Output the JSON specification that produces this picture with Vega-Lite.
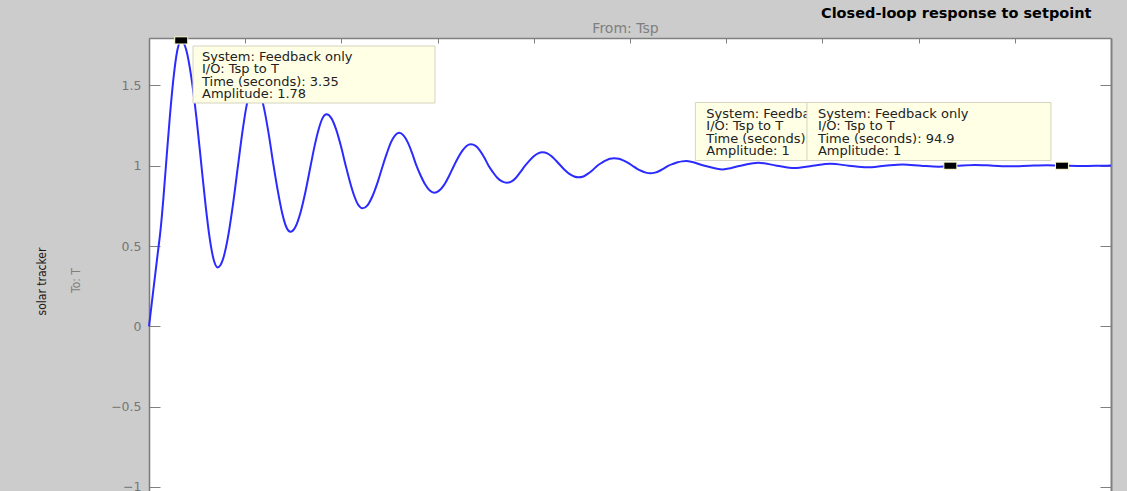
{
  "$schema": "https://vega.github.io/schema/vega-lite/v6.json",
  "width": 962,
  "height": 453,
  "autosize": {"type": "none"},
  "padding": {"left": 149, "top": 38, "right": 16, "bottom": 0},
  "background": "#cccccc",
  "view": {"fill": "#ffffff", "stroke": null},
  "config": {"font": "DejaVu Sans", "axis": {"grid": false}},
  "title": {
    "text": "Closed-loop response to setpoint",
    "anchor": "start",
    "frame": "group",
    "dx": 672,
    "dy": 0,
    "offset": 0,
    "font": "DejaVu Sans",
    "fontSize": 14.5,
    "fontWeight": "bold",
    "color": "#000000"
  },
  "datasets": {
    "response": [
      {"t": 0, "v": 0}, {"t": 0.3, "v": 0.15}, {"t": 0.6, "v": 0.3}, {"t": 0.9, "v": 0.45},
      {"t": 1.2, "v": 0.6}, {"t": 1.5, "v": 0.8}, {"t": 1.76, "v": 1.0}, {"t": 2.16, "v": 1.3},
      {"t": 2.555, "v": 1.55}, {"t": 2.95, "v": 1.72}, {"t": 3.35, "v": 1.78}, {"t": 3.875, "v": 1.72},
      {"t": 4.4, "v": 1.55}, {"t": 4.93, "v": 1.3}, {"t": 5.45, "v": 1.0}, {"t": 5.875, "v": 0.758},
      {"t": 6.3, "v": 0.552}, {"t": 6.725, "v": 0.415}, {"t": 7.15, "v": 0.367}, {"t": 7.675, "v": 0.415},
      {"t": 8.2, "v": 0.552}, {"t": 8.725, "v": 0.758}, {"t": 9.25, "v": 1.0}, {"t": 9.675, "v": 1.195},
      {"t": 10.1, "v": 1.36}, {"t": 10.525, "v": 1.47}, {"t": 10.95, "v": 1.51}, {"t": 11.45, "v": 1.47},
      {"t": 11.95, "v": 1.36}, {"t": 12.45, "v": 1.195}, {"t": 12.95, "v": 1.0}, {"t": 13.39, "v": 0.843},
      {"t": 13.83, "v": 0.709}, {"t": 14.26, "v": 0.62}, {"t": 14.7, "v": 0.589}, {"t": 15.23, "v": 0.62},
      {"t": 15.75, "v": 0.709}, {"t": 16.28, "v": 0.843}, {"t": 16.8, "v": 1.0}, {"t": 17.21, "v": 1.122},
      {"t": 17.63, "v": 1.226}, {"t": 18.04, "v": 1.296}, {"t": 18.45, "v": 1.32}, {"t": 18.95, "v": 1.296},
      {"t": 19.45, "v": 1.226}, {"t": 19.95, "v": 1.122}, {"t": 20.45, "v": 1.0}, {"t": 20.89, "v": 0.899},
      {"t": 21.33, "v": 0.813}, {"t": 21.76, "v": 0.755}, {"t": 22.2, "v": 0.735}, {"t": 22.73, "v": 0.755},
      {"t": 23.25, "v": 0.813}, {"t": 23.78, "v": 0.899}, {"t": 24.3, "v": 1.0}, {"t": 24.73, "v": 1.078},
      {"t": 25.15, "v": 1.145}, {"t": 25.58, "v": 1.189}, {"t": 26.0, "v": 1.205}, {"t": 26.45, "v": 1.189},
      {"t": 26.9, "v": 1.145}, {"t": 27.35, "v": 1.078}, {"t": 27.8, "v": 1.0}, {"t": 28.26, "v": 0.936},
      {"t": 28.73, "v": 0.881}, {"t": 29.19, "v": 0.845}, {"t": 29.65, "v": 0.832}, {"t": 30.16, "v": 0.845},
      {"t": 30.68, "v": 0.881}, {"t": 31.19, "v": 0.936}, {"t": 31.7, "v": 1.0}, {"t": 32.14, "v": 1.051},
      {"t": 32.58, "v": 1.094}, {"t": 33.01, "v": 1.123}, {"t": 33.45, "v": 1.133}, {"t": 33.95, "v": 1.123},
      {"t": 34.4, "v": 1.094}, {"t": 34.85, "v": 1.051}, {"t": 35.3, "v": 1.0}, {"t": 35.75, "v": 0.96},
      {"t": 36.2, "v": 0.925}, {"t": 36.7, "v": 0.902}, {"t": 37.2, "v": 0.894}, {"t": 37.7, "v": 0.902},
      {"t": 38.15, "v": 0.925}, {"t": 38.6, "v": 0.96}, {"t": 39.1, "v": 1.0}, {"t": 39.55, "v": 1.032},
      {"t": 40.0, "v": 1.059}, {"t": 40.45, "v": 1.077}, {"t": 40.9, "v": 1.083}, {"t": 41.4, "v": 1.077},
      {"t": 41.85, "v": 1.059}, {"t": 42.3, "v": 1.032}, {"t": 42.8, "v": 1.0}, {"t": 43.25, "v": 0.972},
      {"t": 43.7, "v": 0.949}, {"t": 44.2, "v": 0.933}, {"t": 44.65, "v": 0.928}, {"t": 45.15, "v": 0.933},
      {"t": 45.6, "v": 0.949}, {"t": 46.1, "v": 0.972}, {"t": 46.6, "v": 1.0}, {"t": 47.05, "v": 1.018},
      {"t": 47.5, "v": 1.033}, {"t": 47.9, "v": 1.043}, {"t": 48.35, "v": 1.046}, {"t": 48.85, "v": 1.043},
      {"t": 49.3, "v": 1.033}, {"t": 49.8, "v": 1.018}, {"t": 50.25, "v": 1.0}, {"t": 50.7, "v": 0.982},
      {"t": 51.2, "v": 0.967}, {"t": 51.65, "v": 0.957}, {"t": 52.1, "v": 0.953}, {"t": 52.6, "v": 0.957},
      {"t": 53.05, "v": 0.967}, {"t": 53.5, "v": 0.982}, {"t": 54.0, "v": 1.0}, {"t": 54.45, "v": 1.011},
      {"t": 54.95, "v": 1.021}, {"t": 55.4, "v": 1.027}, {"t": 55.85, "v": 1.029}, {"t": 57.75, "v": 1.0},
      {"t": 59.6, "v": 0.977}, {"t": 61.5, "v": 1.0}, {"t": 63.35, "v": 1.019}, {"t": 65.25, "v": 1.0},
      {"t": 67.1, "v": 0.985}, {"t": 69.0, "v": 1.0}, {"t": 70.85, "v": 1.012}, {"t": 72.75, "v": 1.0},
      {"t": 74.6, "v": 0.99}, {"t": 76.5, "v": 1.0}, {"t": 78.35, "v": 1.008}, {"t": 80.25, "v": 1.0},
      {"t": 82.1, "v": 0.994}, {"t": 84.0, "v": 1.0}, {"t": 85.85, "v": 1.005}, {"t": 87.75, "v": 1.0},
      {"t": 89.6, "v": 0.996}, {"t": 91.5, "v": 1.0}, {"t": 93.35, "v": 1.003}, {"t": 95.25, "v": 1.0},
      {"t": 97.1, "v": 0.998}, {"t": 99.0, "v": 1.0}, {"t": 100, "v": 1.001}
    ],
    "tips": [
      {"system": "Feedback only", "io": "Tsp to T", "time": 3.35, "amplitude": 1.78},
      {"system": "Feedback only", "io": "Tsp to T", "time": 83.3, "amplitude": 1},
      {"system": "Feedback only", "io": "Tsp to T", "time": 94.9, "amplitude": 1}
    ]
  },
  "resolve": {"axis": {"x": "independent", "y": "independent"}},
  "layer": [
    {
      "mark": {"type": "rule", "color": "#303030", "strokeWidth": 1, "strokeDash": [5, 4]},
      "encoding": {
        "y": {
          "datum": 1,
          "type": "quantitative",
          "scale": {"domain": [-1.025, 1.795], "nice": false, "zero": false},
          "axis": {
            "orient": "left",
            "title": "solar tracker",
            "labels": false,
            "ticks": false,
            "domain": false,
            "titleX": -108,
            "titleY": 243,
            "titleAngle": 270,
            "titleBaseline": "middle",
            "titleAlign": "center",
            "titleFont": "Liberation Sans Narrow, DejaVu Sans Condensed, sans-serif",
            "titleFontSize": 12,
            "titleFontWeight": "normal",
            "titleColor": "#1e1610"
          }
        }
      }
    },
    {
      "data": {"name": "response"},
      "mark": {"type": "line", "color": "#2b2bff", "strokeWidth": 2, "interpolate": "monotone"},
      "encoding": {
        "x": {
          "field": "t",
          "type": "quantitative",
          "scale": {"domain": [0, 100], "nice": false, "zero": false},
          "axis": {
            "orient": "top",
            "title": "From: Tsp",
            "values": [0, 10, 20, 30, 40, 50, 60, 70, 80, 90, 100],
            "labels": false,
            "tickSize": -5,
            "tickColor": "#7f7f7f",
            "domain": true,
            "domainColor": "#808080",
            "domainWidth": 1.5,
            "titleX": 476,
            "titleY": -6,
            "titleBaseline": "alphabetic",
            "titleFont": "DejaVu Sans",
            "titleFontSize": 14,
            "titleFontWeight": "normal",
            "titleColor": "#7f7f7f"
          }
        },
        "y": {
          "field": "v",
          "type": "quantitative",
          "scale": {"domain": [-1.025, 1.795], "nice": false, "zero": false},
          "axis": {
            "orient": "left",
            "title": "To: T",
            "values": [-1, -0.5, 0, 0.5, 1, 1.5],
            "format": "~g",
            "tickSize": -11,
            "tickColor": "#7f7f7f",
            "domain": true,
            "domainColor": "#7a7a7a",
            "domainWidth": 1.5,
            "labelPadding": 19,
            "labelOverlap": false,
            "labelFont": "DejaVu Sans",
            "labelFontSize": 12.5,
            "labelColor": "#767676",
            "titleX": -74,
            "titleY": 242,
            "titleAngle": 270,
            "titleBaseline": "middle",
            "titleAlign": "center",
            "titleFont": "Liberation Sans Narrow, DejaVu Sans Condensed, sans-serif",
            "titleFontSize": 12,
            "titleFontWeight": "normal",
            "titleColor": "#7f7f7f"
          }
        }
      }
    },
    {
      "data": {"name": "tips"},
      "mark": {
        "type": "point",
        "shape": "M-1,-0.55L1,-0.55L1,0.55L-1,0.55Z",
        "size": 169,
        "filled": true,
        "fill": "#000000",
        "stroke": "#ffffd0",
        "strokeWidth": 1,
        "opacity": 1
      },
      "encoding": {
        "x": {"field": "time", "type": "quantitative", "scale": {"domain": [0, 100], "nice": false, "zero": false}, "axis": null},
        "y": {
          "field": "amplitude",
          "type": "quantitative",
          "scale": {"domain": [-1.025, 1.795], "nice": false, "zero": false},
          "axis": {
            "orient": "right",
            "title": null,
            "labels": false,
            "values": [-1, -0.5, 0, 0.5, 1, 1.5],
            "tickSize": -11,
            "tickColor": "#7f7f7f",
            "domain": true,
            "domainColor": "#808080",
            "domainWidth": 2
          }
        }
      }
    },
    {
      "data": {"name": "tips"},
      "transform": [{"filter": "datum.time < 50"}],
      "mark": {"type": "rect", "fill": "#ffffe6", "stroke": "#d4d4c0", "strokeWidth": 1, "xOffset": 11.8, "x2Offset": 253.8, "yOffset": 5.6, "y2Offset": 62.6},
      "encoding": {
        "x": {"field": "time", "type": "quantitative", "axis": null},
        "x2": {"field": "time"},
        "y": {"field": "amplitude", "type": "quantitative", "axis": null},
        "y2": {"field": "amplitude"}
      }
    },
    {
      "data": {"name": "tips"},
      "transform": [
        {"filter": "datum.time < 50"},
        {"calculate": "'System: ' + datum.system + '\\n' + 'I/O: ' + datum.io + '\\n' + 'Time (seconds): ' + datum.time + '\\n' + 'Amplitude: ' + datum.amplitude", "as": "label"}
      ],
      "mark": {"type": "text", "align": "left", "baseline": "alphabetic", "lineBreak": "\n", "lineHeight": 12.4, "dx": 20.8, "dy": 20.3, "font": "DejaVu Sans", "fontSize": 13, "color": "#222222"},
      "encoding": {
        "x": {"field": "time", "type": "quantitative", "axis": null},
        "y": {"field": "amplitude", "type": "quantitative", "axis": null},
        "text": {"field": "label", "type": "nominal"}
      }
    },
    {
      "data": {"name": "tips"},
      "transform": [{"filter": "datum.time > 80 && datum.time < 90"}],
      "mark": {"type": "rect", "fill": "#ffffe6", "stroke": "#d4d4c0", "strokeWidth": 1, "xOffset": -255, "x2Offset": -11, "yOffset": -63.2, "y2Offset": -5.2},
      "encoding": {
        "x": {"field": "time", "type": "quantitative", "axis": null},
        "x2": {"field": "time"},
        "y": {"field": "amplitude", "type": "quantitative", "axis": null},
        "y2": {"field": "amplitude"}
      }
    },
    {
      "data": {"name": "tips"},
      "transform": [
        {"filter": "datum.time > 80 && datum.time < 90"},
        {"calculate": "'System: ' + datum.system + '\\n' + 'I/O: ' + datum.io + '\\n' + 'Time (seconds): ' + datum.time + '\\n' + 'Amplitude: ' + datum.amplitude", "as": "label"}
      ],
      "mark": {"type": "text", "align": "left", "baseline": "alphabetic", "lineBreak": "\n", "lineHeight": 12.4, "dx": -244, "dy": -48, "font": "DejaVu Sans", "fontSize": 13, "color": "#222222"},
      "encoding": {
        "x": {"field": "time", "type": "quantitative", "axis": null},
        "y": {"field": "amplitude", "type": "quantitative", "axis": null},
        "text": {"field": "label", "type": "nominal"}
      }
    },
    {
      "data": {"name": "tips"},
      "transform": [{"filter": "datum.time > 90"}],
      "mark": {"type": "rect", "fill": "#ffffe6", "stroke": "#d4d4c0", "strokeWidth": 1, "xOffset": -255, "x2Offset": -11, "yOffset": -63.2, "y2Offset": -5.2},
      "encoding": {
        "x": {"field": "time", "type": "quantitative", "axis": null},
        "x2": {"field": "time"},
        "y": {"field": "amplitude", "type": "quantitative", "axis": null},
        "y2": {"field": "amplitude"}
      }
    },
    {
      "data": {"name": "tips"},
      "transform": [
        {"filter": "datum.time > 90"},
        {"calculate": "'System: ' + datum.system + '\\n' + 'I/O: ' + datum.io + '\\n' + 'Time (seconds): ' + datum.time + '\\n' + 'Amplitude: ' + datum.amplitude", "as": "label"}
      ],
      "mark": {"type": "text", "align": "left", "baseline": "alphabetic", "lineBreak": "\n", "lineHeight": 12.4, "dx": -244, "dy": -48, "font": "DejaVu Sans", "fontSize": 13, "color": "#222222"},
      "encoding": {
        "x": {"field": "time", "type": "quantitative", "axis": null},
        "y": {"field": "amplitude", "type": "quantitative", "axis": null},
        "text": {"field": "label", "type": "nominal"}
      }
    }
  ]
}
